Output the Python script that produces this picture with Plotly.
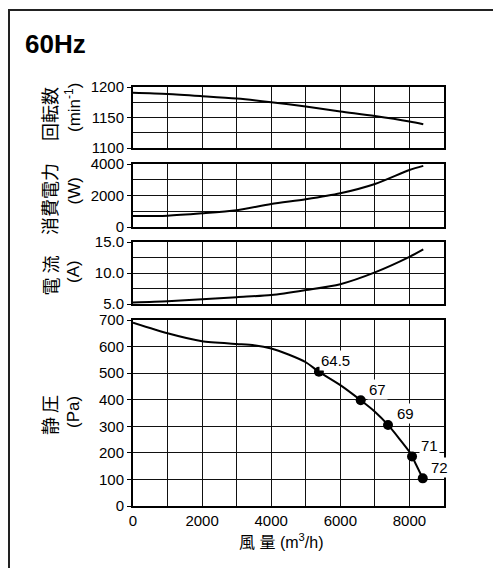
import plotly.graph_objects as go

# ---------------- data ----------------
flow_x = [0, 1000, 2000, 3000, 4000, 5000, 6000, 7000, 8000, 8400]
rpm = [1190.5, 1188.5, 1185, 1181, 1175, 1168, 1160, 1152.5, 1143.5, 1139]
power_w = [700, 720, 870, 1070, 1460, 1760, 2140, 2730, 3620, 3880]
current_a = [5.25, 5.45, 5.75, 6.1, 6.45, 7.25, 8.2, 10.1, 12.6, 13.8]

pa_x = [0, 1000, 2000, 3000, 3500, 4000, 4500, 5000, 5380, 6000, 6590, 7000, 7380, 8000, 8075, 8385]
pa_y = [690, 650, 620, 610, 605, 593, 570, 541, 505, 455, 398, 355, 305, 204, 186, 104]

pt_x = [5380, 6590, 7380, 8075, 8385]
pt_y = [505, 398, 305, 186, 104]
pt_labels = ["64.5", "67", "69", "71", "72"]

x_ticks = [0, 2000, 4000, 6000, 8000]

# ---------------- layout geometry (page px, body margin removed) ----------------
W, H = 493, 568
L, R, T, B = 133, 444, 87, 506
PW, PH = R - L, B - T


def px(x):
    return (x - L) / PW


def py(y):
    return (B - y) / PH


panels = [(87, 148), (164, 227), (242, 304), (320, 506)]
domains = [[py(b), py(t)] for t, b in panels]
domains[3][0] = 0.0
domains[0][1] = 1.0

LAT = "Liberation Sans, Arial, Noto Sans CJK JP"
tick_font = dict(family=LAT, size=15, color="black")

fig = go.Figure()

line_style = dict(color="black", width=2)
fig.add_trace(go.Scatter(x=flow_x, y=rpm, mode="lines", line=dict(shape="spline", smoothing=0.8, **line_style),
                         xaxis="x", yaxis="y", showlegend=False, hoverinfo="skip"))
fig.add_trace(go.Scatter(x=flow_x, y=power_w, mode="lines", line=dict(shape="spline", smoothing=0.8, **line_style),
                         xaxis="x2", yaxis="y2", showlegend=False, hoverinfo="skip"))
fig.add_trace(go.Scatter(x=flow_x, y=current_a, mode="lines", line=dict(shape="spline", smoothing=0.8, **line_style),
                         xaxis="x3", yaxis="y3", showlegend=False, hoverinfo="skip"))
fig.add_trace(go.Scatter(x=pa_x, y=pa_y, mode="lines", line=dict(shape="spline", smoothing=0.6, **line_style),
                         xaxis="x4", yaxis="y4", showlegend=False, hoverinfo="skip"))
fig.add_trace(go.Scatter(x=pt_x, y=pt_y, mode="markers", marker=dict(color="black", size=10),
                         xaxis="x4", yaxis="y4", showlegend=False, hoverinfo="skip"))

axis_common = dict(showline=True, mirror=True, linecolor="black", linewidth=2,
                   showgrid=True, gridcolor="#111111", gridwidth=1, zeroline=False,
                   tickfont=tick_font, fixedrange=True)

xspec = dict(range=[0, 9000], tickvals=x_ticks, minor=dict(dtick=1000, tick0=0, showgrid=True,
                                                             gridcolor="#111111", gridwidth=1),
             **axis_common)

yspecs = [
    dict(range=[1100, 1200], dtick=50, tick0=1100, minor=dict(dtick=25, tick0=1100, showgrid=True, gridcolor="#111111")),
    dict(range=[0, 4000], dtick=2000, tick0=0, minor=dict(dtick=1000, tick0=0, showgrid=True, gridcolor="#111111")),
    dict(range=[5, 15], dtick=5, tick0=5, tickformat=".1f", minor=dict(dtick=2.5, tick0=5, showgrid=True, gridcolor="#111111")),
    dict(range=[0, 700], dtick=100, tick0=0),
]

layout = dict(width=W, height=H, margin=dict(l=L, r=W - R, t=T, b=H - B),
              paper_bgcolor="white", plot_bgcolor="white", showlegend=False)

for i in range(4):
    sx = "" if i == 0 else str(i + 1)
    xs = dict(xspec)
    xs["anchor"] = "y" + sx
    xs["domain"] = [0, 1]
    xs["showticklabels"] = (i == 3)
    if i > 0:
        xs["matches"] = "x"
    ys = dict(axis_common)
    ys.update(yspecs[i])
    ys.update(anchor="x" + sx, domain=domains[i], ticks="outside", ticklen=4, tickcolor="black", tickwidth=1)
    layout["xaxis" + sx] = xs
    layout["yaxis" + sx] = ys

fig.update_layout(**layout)

ann = []
# point labels
for xv, yv, lab in zip(pt_x, pt_y, pt_labels):
    ann.append(dict(x=xv, y=yv, xref="x4", yref="y4", text=lab, showarrow=False,
                    xshift=17, yshift=11, bgcolor="white", borderpad=1,
                    font=dict(family=LAT, size=15, color="black")))

# title
ann.append(dict(x=px(23), y=py(44), xref="paper", yref="paper", text="<b>60Hz</b>", showarrow=False,
                xanchor="left", yanchor="middle", font=dict(family=LAT, size=26, color="black")))

# y-axis titles (two lines each, rotated)
ytitles = [
    ("回転数", 114, "(min<sup>-1</sup>)", 107.5),
    ("消費電力", 199, "(W)", 191),
    ("電 流", 275.5, "(A)", 271.5),
    ("静 圧", 415, "(Pa)", 412.5),
]
for t1, y1, t2, y2 in ytitles:
    ann.append(dict(x=px(49), y=py(y1), xref="paper", yref="paper", text=t1, showarrow=False,
                    textangle=-90, xanchor="center", yanchor="middle",
                    font=dict(family="Noto Sans CJK JP", size=18, color="black")))
    ann.append(dict(x=px(73.5), y=py(y2), xref="paper", yref="paper", text=t2, showarrow=False,
                    textangle=-90, xanchor="center", yanchor="middle",
                    font=dict(family=LAT, size=17, color="black")))

# x-axis title
ann.append(dict(x=px(281), y=py(541), xref="paper", yref="paper", text="風 量 (m<sup>3</sup>/h)",
                showarrow=False, xanchor="center", yanchor="middle",
                font=dict(family=LAT, size=16, color="black")))

fig.update_layout(annotations=ann)

# outer frame: only the top and left edges fall inside the view
frame = dict(color="#222222", width=2)
fig.add_shape(type="line", xref="paper", yref="paper", x0=px(8), y0=py(10), x1=px(500), y1=py(10),
              line=frame, layer="below")
fig.add_shape(type="line", xref="paper", yref="paper", x0=px(9), y0=py(9), x1=px(9), y1=py(580),
              line=frame, layer="below")

fig.write_html(
    "out.html",
    config={"displayModeBar": False, "staticPlot": True},
    post_script=("document.documentElement.style.overflow='hidden';"
                 "document.body.style.margin='0';document.body.style.overflow='hidden';"),
)
